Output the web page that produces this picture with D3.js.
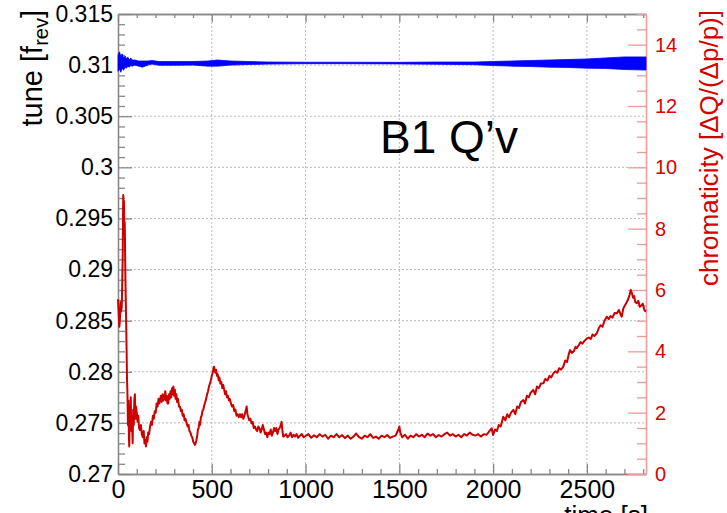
<!DOCTYPE html>
<html lang="en">
<head>
<meta charset="utf-8">
<title>B1 Q'v</title>
<script src="https://cdn.jsdelivr.net/npm/d3@7"></script>
<style>
  body { margin: 0; background: #fff; }
  text { font-family: "Liberation Sans", Arial, sans-serif; }
</style>
</head>
<body>
<script>
var w = 727;
var h = 513;

// ticks
var timeTicks = [0, 500, 1000, 1500, 2000, 2500];
var tuneTicks = [0.27, 0.275, 0.28, 0.285, 0.29, 0.295, 0.3, 0.305, 0.31, 0.315];
var chromaTicks = [0, 2, 4, 6, 8, 10, 12, 14];

// tune (blue), band
var tuneTime = [0, 8, 15, 22, 30, 38, 45, 52, 60, 68, 75, 90, 110, 130, 160, 180, 220, 300, 400, 480, 530, 600, 700, 800, 1000, 1200, 1500, 1700, 1900, 2000, 2100, 2200, 2300, 2400, 2500, 2600, 2700, 2815];
var tuneHi = [0.3110, 0.3113, 0.3108, 0.3111, 0.3107, 0.3109, 0.3106, 0.3108, 0.3105, 0.3107, 0.3105, 0.3105, 0.3104, 0.3104, 0.3104, 0.31045, 0.31035, 0.31035, 0.31035, 0.3104, 0.3105, 0.3104, 0.31035, 0.3103, 0.31028, 0.31028, 0.31027, 0.3103, 0.3103, 0.31035, 0.3104, 0.31045, 0.3105, 0.31055, 0.3106, 0.3107, 0.3108, 0.3108];
var tuneLo = [0.3094, 0.3096, 0.3093, 0.3097, 0.3095, 0.3098, 0.3097, 0.3099, 0.3098, 0.3100, 0.3099, 0.3100, 0.3099, 0.3098, 0.3100, 0.3101, 0.30998, 0.30998, 0.3100, 0.3099, 0.3099, 0.3100, 0.31006, 0.3101, 0.31014, 0.31014, 0.31012, 0.31008, 0.31004, 0.30996, 0.3099, 0.30986, 0.3098, 0.30977, 0.3097, 0.30967, 0.30957, 0.30952];

// chromaticity (red)
var chromaTime = [0, 4, 7, 10, 14, 17, 20, 23, 25, 27, 28, 30, 32, 34, 36, 38, 40, 43, 46, 48, 50, 53, 56, 58, 60, 63, 65, 68, 71, 74, 78, 81, 84, 87, 90, 93, 96, 100, 104, 108, 112, 117, 122, 127, 132, 137, 141, 145, 149, 153, 157, 161, 166, 171, 176, 181, 186, 191, 196, 201, 206, 211, 216, 220, 224, 228, 233, 238, 243, 248, 252, 256, 260, 264, 268, 272, 276, 280, 284, 288, 292, 295, 299, 303, 307, 311, 315, 320, 325, 330, 335, 340, 345, 350, 355, 360, 366, 371, 376, 381, 386, 391, 396, 401, 406, 410, 414, 418, 422, 426, 430, 434, 438, 442, 446, 450, 455, 460, 465, 470, 475, 480, 485, 490, 495, 500, 505, 509, 512, 515, 519, 523, 528, 532, 537, 541, 546, 551, 556, 561, 566, 571, 576, 581, 586, 591, 596, 602, 608, 614, 620, 626, 632, 638, 644, 650, 656, 662, 668, 674, 680, 686, 690, 695, 700, 706, 712, 718, 724, 730, 736, 742, 748, 754, 760, 766, 772, 778, 784, 790, 796, 802, 808, 814, 820, 826, 832, 838, 844, 850, 856, 862, 868, 872, 876, 881, 888, 896, 904, 912, 920, 928, 936, 944, 952, 960, 970, 980, 990, 1000, 1015, 1030, 1045, 1060, 1075, 1090, 1105, 1120, 1135, 1150, 1165, 1180, 1195, 1210, 1225, 1240, 1255, 1270, 1285, 1300, 1315, 1330, 1345, 1360, 1375, 1390, 1405, 1420, 1435, 1450, 1465, 1480, 1495, 1500, 1505, 1515, 1530, 1545, 1560, 1575, 1590, 1605, 1620, 1635, 1650, 1665, 1680, 1695, 1710, 1725, 1740, 1755, 1770, 1785, 1800, 1815, 1830, 1845, 1860, 1875, 1890, 1905, 1920, 1935, 1950, 1965, 1980, 1992, 2000, 2010, 2020, 2030, 2040, 2054, 2065, 2075, 2085, 2095, 2108, 2118, 2128, 2138, 2148, 2161, 2170, 2180, 2190, 2200, 2214, 2224, 2234, 2244, 2255, 2268, 2278, 2290, 2300, 2310, 2321, 2332, 2342, 2352, 2362, 2374, 2384, 2394, 2403, 2410, 2420, 2430, 2440, 2446, 2456, 2466, 2476, 2488, 2500, 2510, 2520, 2530, 2540, 2553, 2563, 2573, 2583, 2594, 2606, 2616, 2626, 2636, 2648, 2660, 2670, 2680, 2686, 2694, 2704, 2712, 2720, 2728, 2734, 2740, 2746, 2752, 2758, 2766, 2774, 2782, 2790, 2798, 2806, 2815];
var chromaValue = [5.7, 5.2, 4.8, 5.0, 5.6, 5.3, 5.45, 6.4, 7.1, 8.6, 9.1, 8.3, 8.9, 7.85, 8.2, 7.1, 6.2, 5.1, 4.0, 3.1, 2.74, 1.6, 2.4, 1.2, 0.9, 2.2, 1.5, 2.5, 1.4, 1.9, 1.0, 2.1, 1.6, 2.4, 2.6, 1.8, 2.2, 2.0, 1.7, 1.9, 1.5, 1.43, 1.6, 1.3, 1.2, 1.4, 1.0, 1.1, 0.9, 1.2, 1.05, 1.35, 1.3, 1.55, 1.7, 1.6, 1.9, 1.8, 2.05, 2.0, 2.3, 2.2, 2.45, 2.3, 2.4, 2.55, 2.35, 2.6, 2.4, 2.5, 2.7, 2.4, 2.55, 2.3, 2.3, 2.6, 2.45, 2.7, 2.5, 2.8, 2.6, 2.85, 2.55, 2.75, 2.45, 2.6, 2.35, 2.45, 2.2, 2.2, 2.05, 2.1, 1.9, 1.95, 1.75, 1.8, 1.65, 1.55, 1.6, 1.4, 1.35, 1.25, 1.2, 1.05, 1.0, 0.95, 1.0, 1.1, 1.25, 1.45, 1.5, 1.7, 1.6, 1.85, 1.9, 2.05, 2.1, 2.25, 2.35, 2.45, 2.6, 2.7, 2.85, 2.95, 3.05, 3.2, 3.3, 3.45, 3.5, 3.4, 3.3, 3.4, 3.2, 3.25, 3.05, 3.15, 2.95, 3.0, 2.8, 2.9, 2.75, 2.6, 2.7, 2.5, 2.55, 2.4, 2.45, 2.3, 2.2, 2.25, 2.05, 2.1, 1.9, 1.95, 1.85, 1.95, 1.85, 1.95, 1.8, 1.9, 2.05, 2.2, 1.95, 1.85, 1.75, 1.8, 1.65, 1.7, 1.5, 1.55, 1.45, 1.4, 1.55, 1.5, 1.35, 1.45, 1.6, 1.45, 1.3, 1.35, 1.2, 1.35, 1.3, 1.45, 1.25, 1.35, 1.5, 1.4, 1.5, 1.3, 1.45, 1.5, 1.6, 1.7, 1.45, 1.22, 1.25, 1.3, 1.2, 1.25, 1.35, 1.2, 1.28, 1.22, 1.3, 1.18, 1.25, 1.3, 1.2, 1.24, 1.3, 1.18, 1.26, 1.2, 1.3, 1.22, 1.28, 1.15, 1.25, 1.2, 1.3, 1.2, 1.27, 1.17, 1.25, 1.15, 1.22, 1.32, 1.2, 1.15, 1.25, 1.2, 1.3, 1.18, 1.22, 1.15, 1.25, 1.2, 1.27, 1.18, 1.22, 1.25, 1.45, 1.55, 1.35, 1.2, 1.28, 1.15, 1.25, 1.2, 1.3, 1.22, 1.28, 1.2, 1.32, 1.25, 1.3, 1.2, 1.27, 1.22, 1.3, 1.35, 1.25, 1.3, 1.22, 1.28, 1.2, 1.3, 1.25, 1.35, 1.28, 1.25, 1.3, 1.22, 1.3, 1.28, 1.4, 1.49, 1.27, 1.45, 1.4, 1.6, 1.55, 1.87, 1.75, 1.95, 1.85, 2.0, 2.09, 1.95, 2.2, 2.15, 2.35, 2.41, 2.3, 2.55, 2.5, 2.65, 2.74, 2.6, 2.85, 2.8, 2.95, 2.96, 3.1, 3.05, 3.2, 3.15, 3.28, 3.35, 3.3, 3.45, 3.4, 3.5, 3.7, 3.65, 3.9, 4.04, 3.95, 4.0, 4.15, 4.1, 4.2, 4.3, 4.25, 4.35, 4.42, 4.45, 4.4, 4.55, 4.5, 4.59, 4.75, 4.85, 4.8, 5.0, 5.13, 5.05, 5.15, 5.1, 5.25, 5.24, 5.35, 5.2, 5.13, 5.4, 5.51, 5.6, 5.7, 5.85, 6.0, 5.9, 5.75, 5.8, 5.6, 5.57, 5.65, 5.45, 5.5, 5.55, 5.35, 5.29];

var x = d3.scaleLinear().domain([0, 2815]).range([118, 646]);
var yTune = d3.scaleLinear().domain([0.27, 0.315]).range([474, 14]);
var yChroma = d3.scaleLinear().domain([0, 15]).range([474, 14]);

var svg = d3.select("body").append("svg")
  .attr("width", w)
  .attr("height", h);

// dotted grid
svg.selectAll("line.vgrid")
  .data(timeTicks.slice(1))
  .enter().append("line")
  .attr("class", "vgrid")
  .attr("x1", function(d) { return x(d); })
  .attr("x2", function(d) { return x(d); })
  .attr("y1", 14).attr("y2", 474)
  .attr("stroke", "#bbb").attr("stroke-dasharray", "2,2");

svg.selectAll("line.hgrid")
  .data(tuneTicks.slice(1, -1))
  .enter().append("line")
  .attr("class", "hgrid")
  .attr("x1", 118).attr("x2", 646)
  .attr("y1", function(d) { return yTune(d); })
  .attr("y2", function(d) { return yTune(d); })
  .attr("stroke", "#bbb").attr("stroke-dasharray", "2,2");

function styleAxis(g, col) {
  g.selectAll("path, line").attr("stroke", col).attr("stroke-width", 1.3);
  g.selectAll("text").attr("font-family", "Liberation Sans, Arial, sans-serif");
}

var minorTime = d3.range(100, 2815, 100).filter(function(d) { return d % 500 !== 0; });
var minorTune = d3.range(0.271, 0.315, 0.001).filter(function(d) { return Math.abs(d * 200 - Math.round(d * 200)) > 0.01; });
var minorChroma = d3.range(0.5, 15.01, 0.5).filter(function(d) { return d % 2 !== 0; });

// bottom
var gx = svg.append("g").attr("transform", "translate(0,474)")
  .call(d3.axisBottom(x).tickValues(timeTicks).tickSize(-10).tickSizeOuter(0).tickPadding(6)
    .tickFormat(d3.format("d")));
gx.selectAll("text").attr("font-size", "25px").attr("fill", "#000");
styleAxis(gx, "#888");
var gxm = svg.append("g").attr("transform", "translate(0,474)")
  .call(d3.axisBottom(x).tickValues(minorTime).tickSize(-5).tickSizeOuter(0).tickFormat(""));
styleAxis(gxm, "#888");

// top
var gt = svg.append("g").attr("transform", "translate(0,14)")
  .call(d3.axisTop(x).tickValues(timeTicks).tickSize(-8).tickSizeOuter(0).tickFormat(""));
styleAxis(gt, "#888");
var gtm = svg.append("g").attr("transform", "translate(0,14)")
  .call(d3.axisTop(x).tickValues(minorTime).tickSize(-4).tickSizeOuter(0).tickFormat(""));
styleAxis(gtm, "#888");

// left
var gy = svg.append("g").attr("transform", "translate(118,0)")
  .call(d3.axisLeft(yTune).tickValues(tuneTicks).tickSize(-14).tickSizeOuter(0).tickPadding(5)
    .tickFormat(function(d) { return String(+d.toFixed(3)); }));
gy.selectAll("text").attr("font-size", "23px").attr("fill", "#000");
styleAxis(gy, "#888");
var gym = svg.append("g").attr("transform", "translate(118,0)")
  .call(d3.axisLeft(yTune).tickValues(minorTune).tickSize(-7).tickSizeOuter(0).tickFormat(""));
styleAxis(gym, "#888");

// right (chromaticity)
var gr = svg.append("g").attr("transform", "translate(646,0)")
  .call(d3.axisRight(yChroma).tickValues(chromaTicks).tickSize(-18).tickSizeOuter(0).tickPadding(9));
gr.selectAll("text").attr("font-size", "20px").attr("fill", "#dd0000");
styleAxis(gr, "#f29a9a");
var grm = svg.append("g").attr("transform", "translate(646,0)")
  .call(d3.axisRight(yChroma).tickValues(minorChroma).tickSize(-9).tickSizeOuter(0).tickFormat(""));
styleAxis(grm, "#f29a9a");

// tune band
var band = d3.area()
  .x(function(d, i) { return x(tuneTime[i]); })
  .y0(function(d, i) { return yTune(tuneLo[i]); })
  .y1(function(d, i) { return yTune(tuneHi[i]); });
svg.append("path")
  .attr("d", band(tuneTime))
  .attr("fill", "#0000ff")
  .attr("stroke", "#0000ff")
  .attr("stroke-width", 0.8);

// chromaticity line
var line = d3.line()
  .x(function(d, i) { return x(chromaTime[i]); })
  .y(function(d, i) { return yChroma(chromaValue[i]); });
svg.append("path")
  .attr("d", line(chromaTime))
  .attr("fill", "none")
  .attr("stroke", "#cc0000")
  .attr("stroke-width", 2)
  .attr("stroke-linejoin", "round");

// labels
var tl = svg.append("text")
  .attr("transform", "translate(42,10) rotate(-90)")
  .attr("text-anchor", "end")
  .attr("font-size", "29px");
tl.append("tspan").text("tune [f");
tl.append("tspan").attr("font-size", "20px").attr("dy", 6).text("rev");
tl.append("tspan").attr("dy", -6).text("]");

svg.append("text")
  .attr("transform", "translate(718,10) rotate(-90)")
  .attr("text-anchor", "end")
  .attr("font-size", "26px")
  .attr("fill", "#d40000")
  .text("chromaticity [\u0394Q/(\u0394p/p)]");

svg.append("text")
  .attr("x", 648).attr("y", 524)
  .attr("text-anchor", "end")
  .attr("font-size", "26px")
  .text("time [s]");

svg.append("text")
  .attr("x", 380).attr("y", 153)
  .attr("font-size", "46px")
  .text("B1 Q\u2019v");
</script>
</body>
</html>
